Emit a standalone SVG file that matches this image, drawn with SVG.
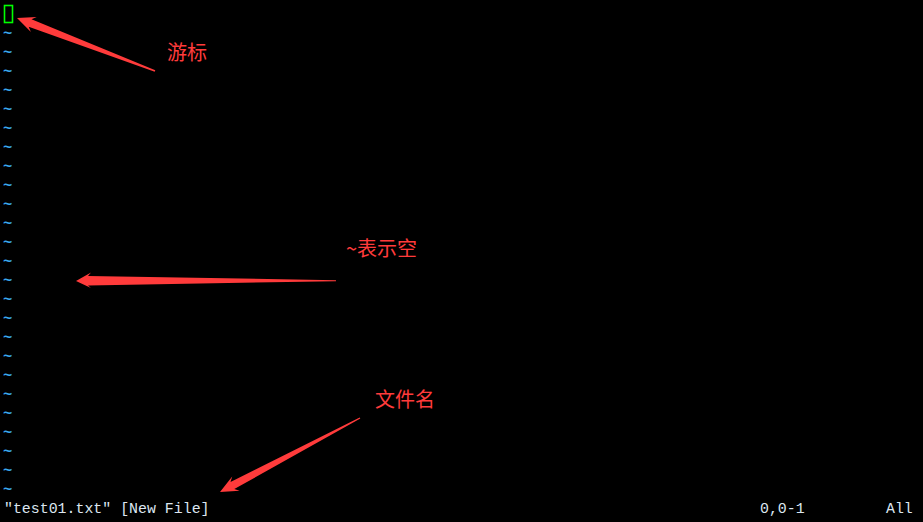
<svg xmlns="http://www.w3.org/2000/svg" width="923" height="522" viewBox="0 0 923 522">
<style>
.t{font-family:"Liberation Mono","DejaVu Sans Mono",monospace;font-size:15.5px;font-weight:bold;fill:#3aa9ec}
.s{font-family:"Liberation Mono","DejaVu Sans Mono",monospace;font-size:14.9px;fill:#dce6f0}
.lbl{font-family:"Noto Sans CJK SC","Noto Sans",sans-serif;font-size:20px;fill:#ff3b3b}
.arr{fill:#ff3b3b}
</style>
<rect width="923" height="522" fill="#000"/>
<g id="cursor"><rect x="4.5" y="5.5" width="8" height="17" fill="none" stroke="#00ff00" stroke-width="1.6"/></g>
<g id="tildes" class="t">
<text x="3" y="38">~</text><text x="3" y="57">~</text><text x="3" y="76">~</text><text x="3" y="95">~</text><text x="3" y="114">~</text>
<text x="3" y="133">~</text><text x="3" y="152">~</text><text x="3" y="171">~</text><text x="3" y="190">~</text><text x="3" y="209">~</text>
<text x="3" y="228">~</text><text x="3" y="247">~</text><text x="3" y="266">~</text><text x="3" y="285">~</text><text x="3" y="304">~</text>
<text x="3" y="323">~</text><text x="3" y="342">~</text><text x="3" y="361">~</text><text x="3" y="380">~</text><text x="3" y="399">~</text>
<text x="3" y="418">~</text><text x="3" y="437">~</text><text x="3" y="456">~</text><text x="3" y="475">~</text><text x="3" y="494">~</text>
</g>
<g id="status" class="s">
<text x="4" y="513">"test01.txt" [New File]</text>
<text x="760" y="513">0,0-1</text>
<text x="886" y="513">All</text>
</g>
<g id="connectors" class="arr">
<polygon points="17,18 36.7,17 31.5,19.3 155.3,70.3 154.7,71.7 28.7,26.7 30.9,32"/>
<polygon points="76,281 91,272.5 88,276 336,280.2 336,281.2 88,285.5 91,288"/>
<polygon points="220,492 232.2,476.5 230.5,482 359.7,417.4 360.3,418.6 234.3,489 239.6,490.7"/>
</g>
<g id="label-cursor"><text class="lbl" x="167" y="60">游标</text></g>
<g id="label-empty"><text class="lbl" x="346" y="256">~表示空</text></g>
<g id="label-file"><text class="lbl" x="375" y="407">文件名</text></g>
</svg>
